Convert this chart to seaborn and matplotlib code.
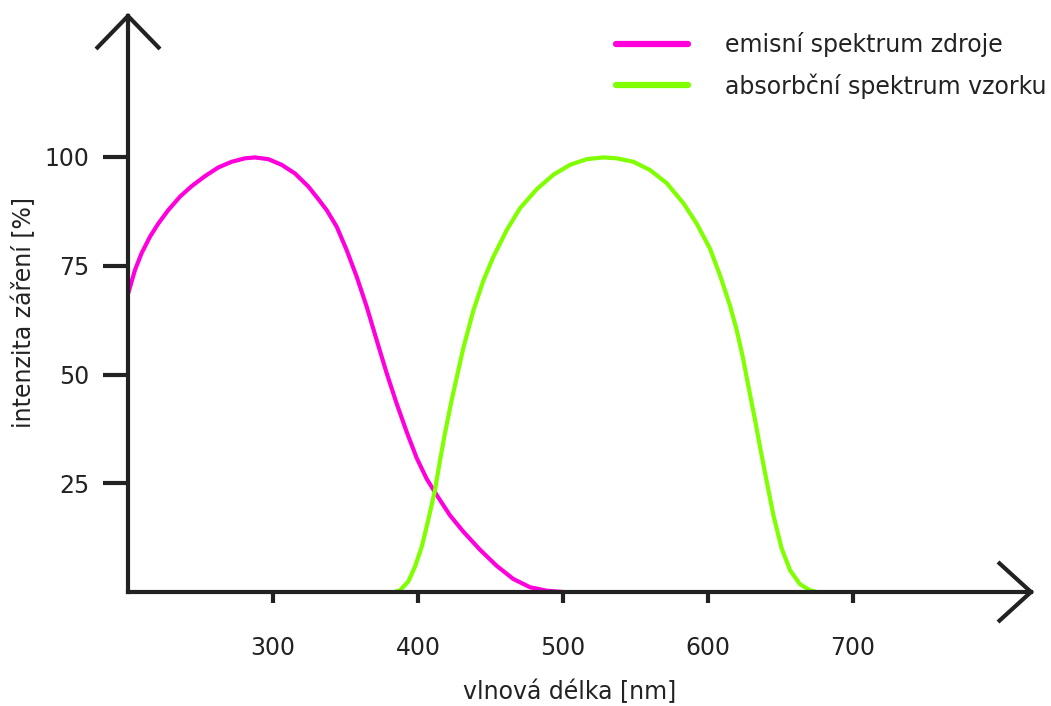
import numpy as np
import pandas as pd
import matplotlib
matplotlib.use("Agg")
import matplotlib.pyplot as plt
import seaborn as sns
from matplotlib.lines import Line2D
from matplotlib.transforms import IdentityTransform

# ---- data ----
em_x = [200, 204.8, 209.4, 215.2, 220.9, 227.8, 235.9, 243.9, 253.1, 262.3,
        271.5, 280.7, 287.6, 296.8, 306, 315.2, 324.4, 331.3, 337, 343.9,
        350.8, 357.7, 364.6, 371.5, 378.4, 385.3, 392.2, 399.1, 406, 412.9,
        422.1, 431.2, 442.8, 454.3, 465.7, 477.2, 488.7, 500.2]
em_y = [68.5, 74.0, 77.9, 81.7, 84.7, 87.8, 90.9, 93.3, 95.6, 97.6,
        98.9, 99.7, 99.9, 99.5, 98.2, 96.2, 93.2, 90.3, 87.8, 84.0,
        78.6, 72.5, 65.6, 57.9, 50.3, 43.3, 36.8, 30.8, 26.0, 22.3,
        17.6, 13.9, 9.7, 6.0, 3.0, 1.1, 0.3, 0.0]
ab_x = [384, 387.6, 393.3, 397.9, 402.6, 407.1, 411.7, 415.2, 418.6, 423.2,
        431.2, 438.1, 445, 451.9, 461.2, 470.3, 481.9, 493.3, 504.8, 516.3,
        527.8, 537, 548.5, 560, 571.5, 583, 592.2, 601.4, 608.3, 615.2,
        619.8, 624, 627.8, 632.4, 635.9, 640.5, 645, 650.8, 656.6, 663.4,
        670.3, 675]
ab_y = [0, 0.4, 2.4, 5.8, 10.4, 16.6, 23.4, 30.3, 36.5, 44.1,
        56.0, 64.6, 71.5, 77.0, 83.2, 88.2, 92.6, 95.9, 98.2, 99.5,
        99.9, 99.7, 98.9, 97.0, 94.0, 89.4, 84.7, 78.9, 72.8, 65.8,
        60.2, 54.0, 47.4, 39.6, 33.3, 25.4, 17.8, 10.0, 5.0, 1.8,
        0.4, 0]
x_ticks = [300, 400, 500, 600, 700]
y_ticks = [25, 50, 75, 100]
series_names = ["emisní spektrum zdroje", "absorbční spektrum vzorku"]
x_label = "vlnová délka [nm]"
y_label = "intenzita záření [%]"

df = pd.concat([
    pd.DataFrame({"x": em_x, "y": em_y, "s": series_names[0]}),
    pd.DataFrame({"x": ab_x, "y": ab_y, "s": series_names[1]}),
])

sns.set_theme(style="white")
plt.rcParams['font.family'] = ['DejaVu Sans']
FS = 17
INK = "#222222"
colors = {series_names[0]: "#FF00DD", series_names[1]: "#7FFF00"}

W, H = 1051, 706
fig = plt.figure(figsize=(W / 100, H / 100), dpi=100)
ax = fig.add_axes([128 / W, (H - 592) / H, (1031 - 128) / W, (592 - 16) / H])

sns.lineplot(data=df, x="x", y="y", hue="s", palette=colors, sort=False,
             estimator=None, linewidth=3.0, ax=ax, legend=False, clip_on=False)
for ln in ax.get_lines():
    ln.set_solid_joinstyle("round")

ax.set_xlim(200, 200 + (1031 - 128) / 1.45)
ax.set_ylim(0, (592 - 16) / 4.35)

for s in ["top", "right"]:
    ax.spines[s].set_visible(False)
for s in ["left", "bottom"]:
    ax.spines[s].set_color(INK)
    ax.spines[s].set_linewidth(3.0)
    ax.spines[s].set_capstyle("projecting")

ax.set_xticks(x_ticks)
ax.set_yticks(y_ticks)
ax.tick_params(axis="x", direction="out", length=8, width=3, color=INK,
               labelsize=FS, labelcolor=INK, pad=24, bottom=True)
ax.tick_params(axis="y", direction="out", length=18, width=3, color=INK,
               labelsize=FS, labelcolor=INK, pad=10, left=True)

ax.set_xlabel(x_label, fontsize=FS, color=INK)
ax.set_ylabel(y_label, fontsize=FS, color=INK)
ax.xaxis.set_label_coords((570 - 128) / (1031 - 128), -(692 - 592) / (592 - 16), transform=ax.transAxes)
ax.xaxis.label.set_va("center")
ax.yaxis.set_label_coords(-(128 - 24) / (1031 - 128), (592 - 312) / (592 - 16), transform=ax.transAxes)
ax.yaxis.label.set_va("center")

# arrowheads (decoration) in display pixels
fig.canvas.draw()
tx, ty = ax.transAxes.transform((0, 1))
fig.add_artist(Line2D([tx - 32, tx, tx + 32], [ty - 33, ty, ty - 33], color=INK,
                      linewidth=3.0, transform=IdentityTransform(),
                      solid_joinstyle="miter", solid_capstyle="butt"))
rx, ry = ax.transAxes.transform((1, 0))
fig.add_artist(Line2D([rx - 33, rx, rx - 33], [ry + 30, ry, ry - 30], color=INK,
                      linewidth=3.0, transform=IdentityTransform(),
                      solid_joinstyle="miter", solid_capstyle="butt"))

handles = [Line2D([0], [0], color=colors[n], linewidth=4.5) for n in series_names]
leg = ax.legend(handles, series_names, loc="upper left",
                bbox_to_anchor=(616 / W, 1 - 32 / H), bbox_transform=fig.transFigure,
                frameon=False, fontsize=FS, handlelength=72 / 1.389 / FS,
                handletextpad=37 / 1.389 / FS, labelspacing=0.68,
                borderpad=0, borderaxespad=0)
for t in leg.get_texts():
    t.set_color(INK)

fig.savefig("out.png", dpi=100)
